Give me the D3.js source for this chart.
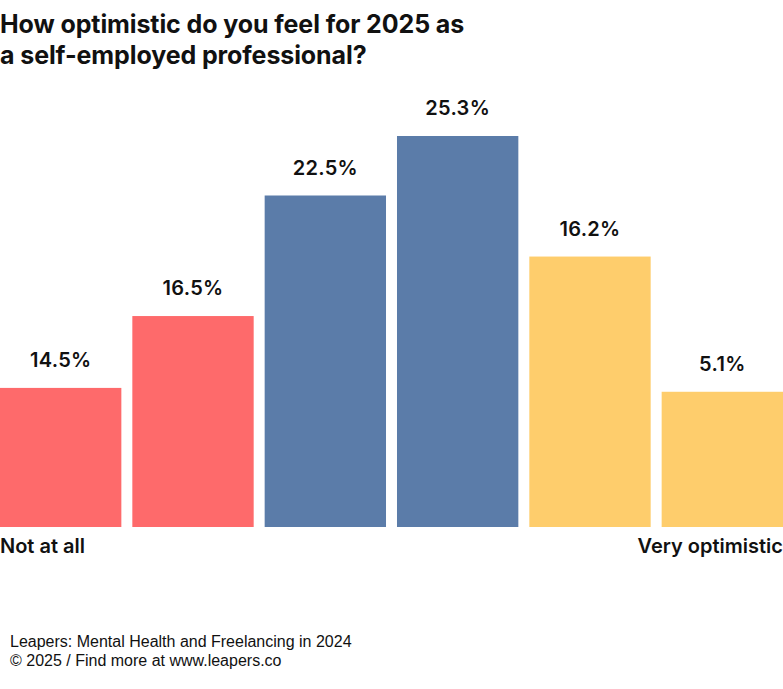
<!DOCTYPE html>
<html>
<head>
<meta charset="utf-8">
<script src="https://cdn.jsdelivr.net/npm/d3@7"></script>
<style>
  html, body { margin: 0; padding: 0; background: #fff; }
  svg { display: block; }
</style>
</head>
<body>
<svg id="chart" width="783" height="689"></svg>
<script>
// Data
const categories = ["1", "2", "3", "4", "5", "6"];
const valueLabels = ["14.5%", "16.5%", "22.5%", "25.3%", "16.2%", "5.1%"];
// bar lengths as drawn in the reference (percent units)
const barValues = [9.0, 13.65, 21.45, 25.3, 17.5, 8.75];
const barColors = ["#fe6a6b", "#fe6a6b", "#5b7ca9", "#5b7ca9", "#fecd6c", "#fecd6c"];
const axisEndLabels = ["Not at all", "Very optimistic"];
const titleLines = ["How optimistic do you feel for 2025 as", "a self-employed professional?"];
const footerLines = ["Leapers: Mental Health and Freelancing in 2024", "© 2025 / Find more at www.leapers.co"];

const svg = d3.select("#chart");
const W = 783;
const baseY = 527;

const x = d3.scaleBand().domain(categories).range([0, W]).paddingInner(0.083).paddingOuter(0);
const y = d3.scaleLinear().domain([0, 25.3]).range([baseY, 136]);

const titleFont = "Inter, 'DejaVu Sans', sans-serif";

svg.append("g").selectAll("text").data(titleLines).join("text")
  .attr("x", 0).attr("y", (d, i) => 33 + i * 31)
  .attr("font-family", titleFont).attr("font-weight", 700)
  .attr("font-size", 25).attr("letter-spacing", "-0.1px").attr("fill", "#111")
  .text(d => d);

const data = categories.map((c, i) => ({ c, v: barValues[i], label: valueLabels[i], color: barColors[i] }));

svg.append("g").selectAll("rect").data(data).join("rect")
  .attr("x", d => x(d.c)).attr("width", x.bandwidth())
  .attr("y", d => y(d.v)).attr("height", d => y(0) - y(d.v))
  .attr("fill", d => d.color);

svg.append("g").selectAll("text").data(data).join("text")
  .attr("x", d => x(d.c) + x.bandwidth() / 2).attr("y", d => y(d.v) - 21)
  .attr("text-anchor", "middle")
  .attr("font-family", titleFont).attr("font-weight", 600)
  .attr("font-size", 20).attr("letter-spacing", "0.3px").attr("fill", "#111")
  .text(d => d.label);

svg.append("text").attr("x", 0).attr("y", 553)
  .attr("font-family", titleFont).attr("font-weight", 600)
  .attr("font-size", 20).attr("fill", "#111").text(axisEndLabels[0]);
svg.append("text").attr("x", W).attr("y", 553).attr("text-anchor", "end")
  .attr("font-family", titleFont).attr("font-weight", 600)
  .attr("font-size", 20).attr("fill", "#111").text(axisEndLabels[1]);

svg.append("g").selectAll("text").data(footerLines).join("text")
  .attr("x", 10).attr("y", (d, i) => 647 + i * 19)
  .attr("font-family", "'Liberation Sans', Arial, sans-serif")
  .attr("font-size", 16).attr("fill", "#111")
  .text(d => d);
</script>
</body>
</html>
